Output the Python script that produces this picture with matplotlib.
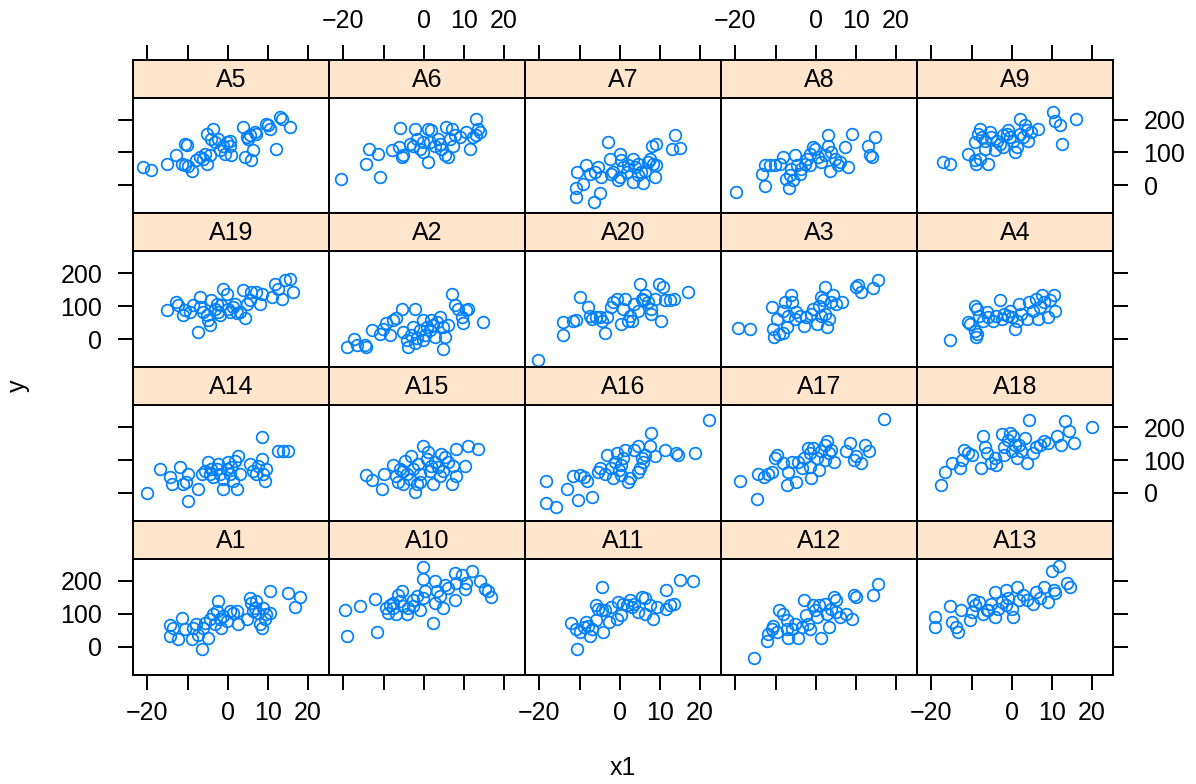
import matplotlib
matplotlib.use("Agg")
import matplotlib.pyplot as plt

plt.rcParams["font.family"] = ["Liberation Sans", "DejaVu Sans"]

# values, one pair of lists per panel
x_A5 = [-21.1, -19.2, -15.2, -12.8, -10.7, -10.1, -11.5, -10.7, -9.0, -9.9, -7.8, -7.0, -6.1, -5.3, -5.7, -4.5, -5.3, -3.7, -4.1, -3.2, -2.4, -1.2, -2.0, -0.3, 0.5, -0.7, 0.9, 3.8, 4.2, 5.9, 6.3, 4.7, 5.5, 6.7, 5.0, 7.1, 9.6, 10.4, 10.0, 12.1, 12.9, 13.4, 15.4, 0.5]
y_A5 = [55, 48, 64, 91, 126, 123, 66, 61, 45, 59, 76, 86, 81, 66, 96, 91, 157, 172, 141, 131, 141, 121, 106, 131, 121, 96, 91, 177, 86, 76, 106, 146, 152, 162, 141, 157, 187, 172, 182, 111, 207, 202, 177, 136]

x_A6 = [-20.7, -14.3, -13.6, -11.4, -10.9, -8.0, -5.8, -6.1, -5.5, -5.1, -2.2, -1.8, -2.7, -1.0, -0.2, 1.1, 1.1, 1.9, 1.5, 2.7, 3.6, 4.4, 5.2, 5.6, 6.0, 6.9, 6.5, 7.3, 7.7, 9.0, 10.6, 11.4, 12.3, 13.1, 13.5, 13.9, 13.1, -0.2, 4.0, -3.5]
y_A6 = [18, 66, 111, 96, 25, 106, 175, 116, 86, 91, 172, 141, 121, 111, 101, 71, 172, 167, 131, 121, 141, 111, 91, 177, 86, 172, 141, 121, 152, 146, 162, 111, 146, 202, 172, 162, 152, 131, 126, 126]

x_A7 = [-10.9, -10.8, -10.6, -9.1, -8.3, -7.5, -6.5, -5.0, -6.2, -5.4, -4.6, -2.9, -2.5, -2.1, -0.4, 0.0, 0.0, 0.4, 0.8, 1.7, 2.1, 3.3, 3.3, 3.7, 4.6, 4.6, 5.8, 5.4, 6.2, 7.0, 7.5, 7.9, 8.3, 9.1, 9.1, 8.7, 12.9, 13.7, 14.9, -1.7]
y_A7 = [-35, -8, 42, 5, 61, 35, -52, -22, 40, 56, 25, 133, 81, 35, 15, 25, 96, 76, 56, 40, 61, 81, 10, 56, 66, 30, 8, 40, 45, 71, 81, 121, 66, 126, 61, 25, 111, 152, 113, 40]

x_A8 = [-19.9, -12.7, -13.5, -12.7, -11.4, -10.2, -9.0, -8.1, -7.3, -6.6, -6.5, -6.1, -5.2, -4.8, -4.0, -3.6, -2.7, -2.3, -1.5, -0.7, -0.2, 0.6, 1.4, 2.2, 3.1, 3.1, 3.5, 3.9, 4.7, 5.5, 6.0, 7.2, 8.0, 8.9, 13.0, 13.4, 13.9, 14.7, -5.6, -1.5]
y_A8 = [-20, -2, 35, 61, 61, 61, 66, 86, 20, -8, 30, 51, 91, 61, 35, 51, 66, 81, 96, 116, 111, 86, 71, 91, 152, 121, 45, 101, 81, 61, 71, 116, 56, 157, 121, 91, 86, 146, 15, 61]

x_A9 = [-17.1, -15.3, -10.9, -9.2, -8.8, -8.0, -5.9, -8.4, -8.0, -7.5, -6.7, -5.5, -5.1, -4.2, -3.8, -3.0, -2.2, -1.3, -0.9, -0.5, 0.3, 0.7, 1.2, 2.0, 2.0, 2.8, 3.2, 3.7, 4.1, 4.9, 6.5, 10.3, 10.7, 11.9, 12.4, 16.1, -9.2, -6.7, -2.2]
y_A9 = [71, 66, 94, 76, 66, 81, 66, 157, 172, 146, 136, 162, 146, 106, 136, 126, 116, 157, 167, 146, 136, 101, 116, 202, 157, 146, 182, 167, 136, 162, 172, 222, 197, 182, 126, 202, 131, 111, 152]

x_A19 = [-15.1, -12.8, -12.4, -11.1, -10.7, -9.5, -8.6, -7.4, -7.0, -7.0, -6.1, -5.3, -4.9, -4.5, -4.1, -3.2, -2.4, -2.0, -1.6, -1.2, -0.3, 0.1, 0.5, 1.3, 2.2, 3.0, 3.8, 4.2, 4.7, 5.5, 5.9, 7.1, 8.0, 8.4, 10.9, 11.7, 12.5, 13.4, 14.2, 15.4, 16.2, -2.8, 1.7]
y_A19 = [88, 113, 103, 73, 88, 83, 103, 22, 128, 98, 83, 73, 58, 42, 118, 93, 83, 73, 103, 153, 138, 93, 83, 98, 78, 83, 148, 63, 108, 118, 143, 143, 108, 138, 128, 169, 153, 123, 179, 184, 143, 108, 108]

x_A2 = [-19.1, -17.4, -16.7, -14.7, -14.3, -13.0, -10.9, -10.1, -9.3, -8.5, -7.6, -6.8, -5.5, -5.1, -4.3, -3.9, -2.2, -2.7, -3.1, -2.2, -1.8, -1.0, -0.2, 0.2, 0.7, 1.5, 2.3, 2.7, 3.2, 4.0, 4.8, 4.8, 5.2, 6.0, 6.9, 7.7, 8.5, 9.4, 9.8, 10.6, 11.0, 14.8, -0.2, 1.9]
y_A2 = [-23, -1, -18, -18, -23, 27, 17, 32, 48, 12, 58, 63, 93, 22, -3, -23, 93, 37, 12, -13, 2, 27, 58, 12, 37, 27, 42, 7, 53, 68, 37, -31, 7, 42, 138, 103, 93, 68, 48, 88, 93, 53, -3, 58]

x_A20 = [-20.3, -14.1, -14.1, -11.7, -10.9, -9.8, -7.9, -7.4, -6.9, -6.0, -4.5, -3.6, -3.1, -2.2, -1.7, -0.7, 0.2, 0.7, 1.2, 2.1, 3.1, 3.6, 4.5, 5.0, 5.5, 6.4, 6.9, 7.8, 7.8, 8.8, 9.8, 10.7, 10.2, 11.2, 12.6, 13.6, 16.9, -5.0, 5.9, 2.6]
y_A20 = [-64, 12, 51, 56, 59, 128, 97, 71, 61, 66, 56, 20, 66, 97, 113, 123, 46, 92, 123, 56, 56, 108, 87, 169, 123, 133, 113, 77, 92, 123, 169, 159, 56, 118, 118, 123, 144, 66, 118, 71]

x_A3 = [-19.4, -16.4, -11.0, -10.6, -10.3, -9.6, -9.1, -8.2, -7.7, -7.2, -6.8, -6.1, -5.8, -5.3, -4.9, -3.0, -2.5, -1.1, -0.6, 0.4, 0.8, 1.3, 1.8, 2.3, 2.3, 2.7, 3.2, 3.7, 4.2, 5.1, 6.5, 9.9, 10.4, 11.3, 14.2, 15.6, -8.2, -3.9, 1.3]
y_A3 = [33, 30, 97, 30, 5, 61, 15, 20, 113, 36, 71, 133, 113, 61, 82, 41, 66, 77, 92, 46, 102, 71, 118, 159, 77, 36, 61, 113, 133, 108, 113, 159, 164, 144, 154, 180, 87, 71, 128]

x_A4 = [-15.4, -11.0, -10.5, -9.1, -8.6, -9.1, -8.8, -8.6, -8.1, -7.2, -6.2, -4.8, -3.9, -2.9, -2.4, -2.0, -1.0, -0.5, 0.9, 1.4, 1.8, 2.3, 3.7, 4.2, 5.2, 6.1, 6.6, 7.1, 7.5, 8.0, 8.9, 9.4, 10.4, 10.8, -5.8, 0.0]
y_A4 = [-3, 51, 46, 102, 92, 25, 8, 15, 71, 56, 82, 56, 71, 118, 61, 77, 71, 87, 30, 56, 108, 77, 61, 113, 87, 123, 61, 97, 133, 113, 66, 118, 133, 87, 66, 66]

x_A14 = [-20.2, -16.9, -14.4, -14.0, -11.9, -11.1, -10.3, -9.9, -9.9, -7.4, -6.5, -5.7, -4.9, -4.5, -4.1, -3.7, -2.8, -2.4, -2.0, -1.2, -1.2, -0.3, 0.1, 0.5, 0.9, 1.7, 2.2, 2.6, 3.0, 5.5, 6.3, 7.1, 7.5, 8.4, 8.4, 8.8, 9.2, 9.6, 12.5, 13.8, 15.0, 1.3]
y_A14 = [-1, 73, 48, 27, 78, 27, 32, 58, -25, 12, 58, 68, 93, 58, 73, 48, 73, 88, 58, 12, 42, 73, 93, 58, 78, 98, 12, 113, 58, 88, 68, 58, 83, 169, 103, 58, 37, 73, 128, 128, 128, 37]

x_A15 = [-14.4, -13.0, -10.5, -10.0, -7.6, -6.8, -6.4, -6.0, -5.1, -4.7, -4.3, -3.5, -3.1, -2.7, -2.2, -1.8, -1.4, -1.0, -0.2, 0.7, 1.1, 1.9, 2.3, 2.7, 3.6, 4.0, 4.4, 5.2, 6.0, 6.9, 7.3, 8.1, 8.1, 10.2, 11.0, 13.5, -5.1, -1.0, 1.5, 4.8]
y_A15 = [56, 39, 12, 58, 86, 53, 32, 73, 27, 98, 58, 42, 113, 73, 2, 27, 88, 58, 143, 103, 123, 83, 27, 93, 78, 53, 118, 108, 93, 27, 83, 53, 133, 83, 143, 133, 68, 32, 68, 68]

x_A16 = [-18.4, -18.4, -16.0, -13.1, -11.7, -10.3, -9.8, -8.8, -8.1, -6.9, -5.5, -5.0, -3.6, -3.1, -1.7, -1.2, -0.7, -0.2, 0.2, 0.7, 1.2, 2.1, 2.6, 3.6, 4.5, 5.0, 5.5, 5.9, 6.4, 7.4, 7.8, 8.8, 11.2, 14.0, 14.5, 18.8, 22.1, -2.2, 0.2, 4.5]
y_A16 = [37, -31, -44, 13, 51, -21, 54, 47, 37, -11, 64, 75, 59, 116, 44, 95, 121, 70, 54, 106, 131, 34, 44, 131, 142, 75, 106, 95, 116, 142, 183, 111, 131, 121, 116, 121, 222, 75, 85, 64]

x_A17 = [-18.8, -14.7, -14.4, -12.9, -12.0, -11.0, -10.1, -9.6, -8.2, -7.2, -6.8, -5.8, -4.9, -4.4, -3.0, -2.0, -1.5, -1.1, -0.6, 0.4, 0.8, 1.3, 2.3, 2.7, 3.2, 3.7, 4.6, 7.5, 8.5, 9.4, 9.9, 11.3, 12.3, 13.2, 17.0, -3.4, 2.3, -1.5]
y_A17 = [37, -18, 57, 49, 59, 64, 106, 116, 90, 23, 64, 95, 34, 95, 106, 136, 80, 44, 136, 106, 70, 126, 147, 157, 121, 131, 95, 126, 152, 100, 111, 90, 147, 126, 226, 75, 100, 121]

x_A18 = [-17.6, -16.7, -14.8, -12.9, -12.4, -11.9, -11.0, -10.0, -7.7, -7.2, -6.7, -6.2, -5.3, -4.3, -3.9, -2.4, -2.0, -1.0, -0.5, 0.0, 0.4, 0.9, 1.4, 2.3, 3.3, 3.7, 4.2, 5.2, 6.1, 7.1, 8.0, 8.9, 11.3, 12.3, 13.2, 14.2, 15.6, 19.9, -2.0, 1.8]
y_A18 = [23, 64, 90, 75, 100, 131, 121, 116, 75, 172, 141, 121, 90, 106, 85, 178, 141, 162, 183, 126, 172, 147, 106, 126, 167, 90, 222, 121, 141, 147, 157, 152, 172, 147, 219, 188, 152, 200, 116, 147]

x_A1 = [-14.3, -13.6, -14.4, -12.4, -11.3, -10.7, -9.0, -8.6, -7.8, -7.4, -6.5, -6.1, -5.7, -4.9, -4.5, -3.7, -3.2, -2.8, -2.4, -2.0, -1.6, -1.2, -0.3, 0.5, 1.3, 2.2, 2.6, 4.7, 5.5, 5.9, 6.7, 7.1, 7.5, 8.0, 8.4, 8.8, 9.2, 9.6, 10.4, 10.4, 15.0, 16.7, 17.9, 6.3]
y_A1 = [66, 58, 32, 25, 88, 53, 22, 58, 68, 37, -8, 58, 73, 27, 83, 98, 68, 108, 138, 83, 58, 93, 78, 108, 103, 108, 68, 83, 148, 133, 118, 138, 103, 68, 58, 118, 83, 98, 169, 103, 164, 120, 150, 108]

x_A10 = [-19.7, -19.2, -15.9, -12.2, -11.6, -9.3, -8.9, -8.5, -7.6, -6.8, -6.4, -6.0, -5.5, -5.1, -4.3, -3.9, -2.7, -1.8, -1.0, -0.2, -0.2, 0.2, -0.2, 2.3, 2.7, 2.7, 3.2, 4.0, 4.8, 5.2, 6.0, 7.7, 7.7, 8.1, 9.4, 10.2, 10.6, 11.9, 13.9, 15.2, 16.0, 16.8, -2.7, -7.6]
y_A10 = [113, 32, 123, 146, 45, 118, 103, 128, 118, 98, 158, 138, 169, 123, 98, 118, 143, 153, 113, 241, 207, 169, 148, 73, 199, 133, 169, 153, 118, 189, 179, 224, 143, 194, 219, 174, 194, 229, 199, 174, 169, 150, 123, 133]

x_A11 = [-12.2, -10.7, -10.9, -9.8, -8.8, -8.4, -7.4, -6.9, -6.0, -4.5, -4.1, -6.0, -5.5, -4.5, -3.6, -2.6, -0.7, 0.2, -0.4, 0.7, 1.7, 2.6, 3.6, 4.5, 5.5, 6.4, 6.4, 7.4, 8.3, 9.3, 11.6, 11.6, 12.6, 13.6, 15.0, 18.3, -7.9, 3.1, -2.2]
y_A11 = [72, -8, 54, 44, 59, 75, 33, 54, 80, 181, 44, 126, 116, 111, 111, 75, 85, 95, 136, 131, 126, 142, 131, 106, 152, 147, 100, 126, 85, 121, 172, 116, 126, 131, 203, 201, 64, 121, 121]

x_A12 = [-15.3, -12.2, -12.0, -11.0, -10.6, -9.6, -9.1, -8.2, -7.2, -6.8, -5.8, -5.3, -4.4, -3.4, -3.0, -2.5, -2.0, -1.5, -0.6, -0.1, 0.4, 1.3, 2.3, 2.7, 3.2, 3.7, 4.6, 5.1, 6.1, 7.5, 8.9, 9.4, 9.9, 14.2, 15.6, -7.2, 0.8, 5.1]
y_A12 = [-35, 18, 39, 54, 64, 44, 111, 100, 80, 28, 54, 69, 28, 59, 141, 95, 69, 54, 126, 111, 90, 28, 131, 100, 59, 116, 152, 106, 90, 100, 85, 157, 152, 157, 191, 54, 126, 141]

x_A13 = [-19.2, -19.2, -15.4, -14.8, -13.8, -13.4, -12.6, -10.5, -10.0, -9.6, -9.1, -8.1, -7.2, -6.2, -5.3, -4.3, -4.1, -3.4, -2.4, -1.5, -1.0, 0.0, 0.4, 1.4, 1.8, 2.8, 3.7, 5.2, 6.1, 7.1, 8.0, 8.9, 9.9, 10.4, 10.8, 11.8, 13.7, 14.6, -5.8, -1.5]
y_A13 = [90, 61, 123, 75, 59, 44, 113, 80, 106, 142, 126, 136, 100, 111, 131, 167, 90, 116, 136, 172, 147, 116, 90, 183, 142, 157, 142, 131, 167, 147, 183, 136, 229, 172, 162, 244, 193, 183, 111, 126]

# panel layout, top row first (lattice fills from the bottom)
rows = [
    [("A5", x_A5, y_A5), ("A6", x_A6, y_A6), ("A7", x_A7, y_A7), ("A8", x_A8, y_A8), ("A9", x_A9, y_A9)],
    [("A19", x_A19, y_A19), ("A2", x_A2, y_A2), ("A20", x_A20, y_A20), ("A3", x_A3, y_A3), ("A4", x_A4, y_A4)],
    [("A14", x_A14, y_A14), ("A15", x_A15, y_A15), ("A16", x_A16, y_A16), ("A17", x_A17, y_A17), ("A18", x_A18, y_A18)],
    [("A1", x_A1, y_A1), ("A10", x_A10, y_A10), ("A11", x_A11, y_A11), ("A12", x_A12, y_A12), ("A13", x_A13, y_A13)],
]

x_ticks = [-20, -10, 0, 10, 20]
x_ticklabels = ["\u221220", "", "0", "10", "20"]
y_ticks = [0, 100, 200]
y_ticklabels = ["0", "100", "200"]

XLIM = (-23.6, 25.2)
YLIM = (-85, 267)
COL = "#0080ff"
FS = 18
LW = 1.4

W, H = 1196, 784
fig = plt.figure(figsize=(W / 100, H / 100), dpi=100)

left0, pw = 133, 196
top0, pitch, ph, sh = 97.5, 153.8, 115.8, 38

for r, row in enumerate(rows):
    for c, (name, xs, ys) in enumerate(row):
        left = left0 + pw * c
        ptop = top0 + pitch * r
        pbot = ptop + ph

        ax = fig.add_axes([left / W, 1 - pbot / H, pw / W, ph / H])
        ax.plot(xs, ys, "o", ms=8.4, mfc="none", mec=COL, mew=1.25, ls="none")
        ax.set_xlim(XLIM)
        ax.set_ylim(YLIM)
        ax.set_xticks(x_ticks)
        ax.set_xticklabels(x_ticklabels)
        ax.set_yticks(y_ticks)
        ax.set_yticklabels(y_ticklabels)
        for sp in ax.spines.values():
            sp.set_linewidth(LW)
        ax.tick_params(direction="out", length=11, width=LW, labelsize=FS,
                       bottom=False, top=False, left=False, right=False,
                       labelbottom=False, labeltop=False, labelleft=False, labelright=False)
        ax.tick_params(axis="x", pad=8)
        ax.tick_params(axis="y", pad=11)
        if r == 3:
            ax.tick_params(axis="x", bottom=True, labelbottom=(c % 2 == 0))
        if c == 0:
            ax.tick_params(axis="y", left=True, labelleft=(r % 2 == 1))
        if c == 4:
            ax.tick_params(axis="y", right=True, labelright=(r % 2 == 0))

        # strip on top of the panel
        sax = fig.add_axes([left / W, 1 - ptop / H, pw / W, sh / H])
        sax.set_facecolor("#ffe5cc")
        sax.set_xlim(XLIM)
        sax.set_ylim(0, 1)
        sax.set_yticks([])
        sax.set_xticks(x_ticks)
        sax.set_xticklabels(x_ticklabels)
        for sp in sax.spines.values():
            sp.set_linewidth(LW)
        sax.tick_params(axis="x", direction="out", length=11, width=LW, labelsize=FS, pad=8,
                        bottom=False, labelbottom=False,
                        top=(r == 0), labeltop=(r == 0 and c % 2 == 1))
        sax.text(0.5, 0.47, name, transform=sax.transAxes, ha="center", va="center", fontsize=FS)

fig.text(623 / W, 1 - 768 / H, "x1", ha="center", va="center", fontsize=FS)
fig.text(18 / W, 1 - 386 / H, "y", ha="center", va="center", fontsize=FS, rotation=90)

fig.savefig("out.png", dpi=100)
